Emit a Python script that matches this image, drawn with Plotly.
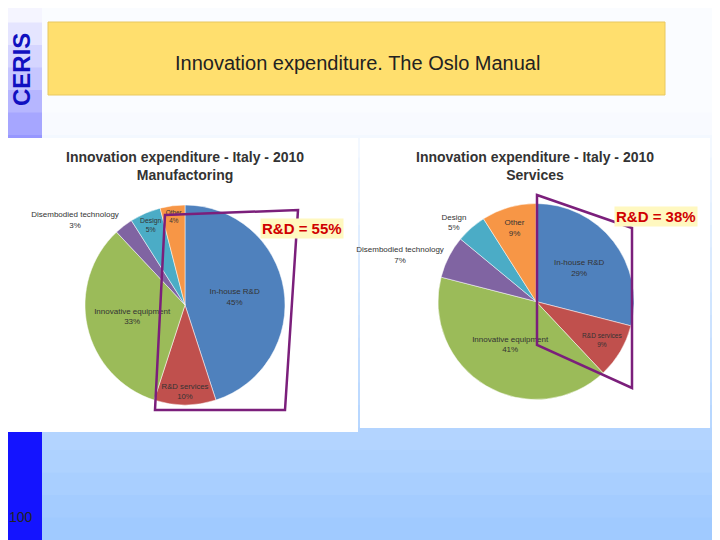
import plotly.graph_objects as go

categories = ["In-house R&D", "R&D services", "Innovative equipment", "Disembodied technology", "Design", "Other"]
manuf_values = [45, 10, 33, 3, 5, 4]
serv_values = [29, 9, 41, 7, 5, 9]
colors = ["#4F81BD", "#C0504D", "#9BBB59", "#8064A2", "#4BACC6", "#F79646"]

W, H = 720, 540
OFF = 8  # page body margin
px = lambda x: (x - OFF) / W
py = lambda y: 1 - (y - OFF) / H

def pie(vals, x0, x1, y0, y1, pos):
    return go.Pie(labels=categories, values=vals, sort=False, direction="clockwise", rotation=0,
                  marker=dict(colors=colors, line=dict(color="white", width=0.5)),
                  texttemplate="%{label}<br>%{percent:.0%}", textposition=pos,
                  insidetextorientation="horizontal",
                  textfont=dict(size=8, color="#333", family="Liberation Sans"),
                  domain=dict(x=[px(x0), px(x1)], y=[py(y1), py(y0)]), showlegend=False, hoverinfo="label+percent")

fig = go.Figure()
fig.add_trace(pie(manuf_values, 85, 285, 205, 405, ["inside", "inside", "inside", "outside", "inside", "inside"]))
fig.add_trace(pie(serv_values, 438, 634, 203, 400, ["inside", "inside", "inside", "outside", "outside", "inside"]))

shapes = []
n = 24
for i in range(n):
    t = i / (n - 1)
    ya, yb = H * i / n, H * (i + 1) / n + 1
    tb = max(0, (t - 0.2) / 0.8)
    c = f"rgb({int(250-90*tb)},{int(252-50*tb)},255)"
    shapes.append(dict(type="rect", xref="paper", yref="paper", x0=px(42), x1=px(730), y0=py(yb), y1=py(ya),
                       fillcolor=c, line_width=0, layer="below"))
    ts = min(1, t * 1.6)
    c2 = f"rgb({int(245-225*ts)},{int(245-225*ts)},255)"
    shapes.append(dict(type="rect", xref="paper", yref="paper", x0=px(0), x1=px(42), y0=py(yb), y1=py(ya),
                       fillcolor=c2, line_width=0, layer="below"))
shapes.append(dict(type="rect", xref="paper", yref="paper", x0=px(48), x1=px(665), y0=py(95), y1=py(22),
                   fillcolor="#FFDF6E", line=dict(color="#E8C860", width=1), layer="below"))
shapes.append(dict(type="rect", xref="paper", yref="paper", x0=px(8), x1=px(358), y0=py(432), y1=py(138),
                   fillcolor="white", line_width=0, layer="below"))
shapes.append(dict(type="rect", xref="paper", yref="paper", x0=px(360), x1=px(710), y0=py(428), y1=py(138),
                   fillcolor="white", line_width=0, layer="below"))
def quad(pts):
    p = "M " + " L ".join(f"{px(x)},{py(y)}" for x, y in pts) + " Z"
    return dict(type="path", xref="paper", yref="paper", path=p, line=dict(color="#7B1F7B", width=2.5))
shapes.append(quad([(165, 215), (298, 210), (285, 410), (155, 410)]))
shapes.append(quad([(537, 195), (632, 228), (632, 388), (537, 345)]))

ann = [
    dict(text="Innovation expenditure. The Oslo Manual", x=px(357), y=py(63), font=dict(size=20, color="#222", family="Liberation Sans")),
    dict(text="<b>Innovation expenditure - Italy - 2010<br>Manufactoring</b>", x=px(185), y=py(166), font=dict(size=14, color="#333", family="Liberation Sans")),
    dict(text="<b>Innovation expenditure - Italy - 2010<br>Services</b>", x=px(535), y=py(166), font=dict(size=14, color="#333", family="Liberation Sans")),
    dict(text="<b>R&D = 55%</b>", x=px(302), y=py(229), font=dict(size=15, color="#D00000", family="Liberation Sans"), bgcolor="#FFF8C0"),
    dict(text="<b>R&D = 38%</b>", x=px(656), y=py(216), font=dict(size=15, color="#D00000", family="Liberation Sans"), bgcolor="#FFF8C0"),
    dict(text="<b>CERIS</b>", x=px(21), y=py(70), textangle=-90, font=dict(size=24, color="#1010C0", family="Liberation Sans")),
    dict(text="100", x=px(21), y=py(517), font=dict(size=14, color="#222", family="Liberation Sans")),
]
for a in ann:
    a.update(xref="paper", yref="paper", showarrow=False, xanchor="center", yanchor="middle")

fig.update_layout(width=W, height=H, margin=dict(l=0, r=0, t=0, b=0), paper_bgcolor="white",
                  plot_bgcolor="white", shapes=shapes, annotations=ann)
fig.write_html("out.html")
